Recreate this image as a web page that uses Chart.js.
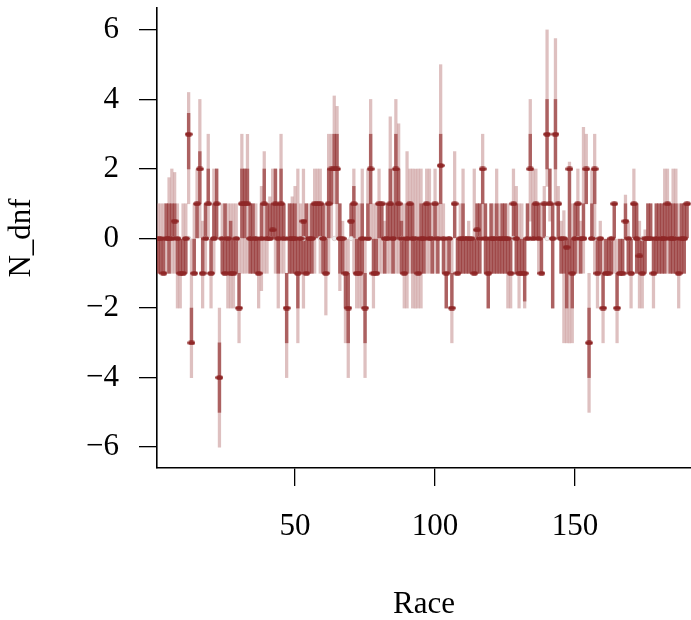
<!DOCTYPE html>
<html>
<head>
<meta charset="utf-8">
<script src="https://cdn.jsdelivr.net/npm/chart.js@4.4.1/dist/chart.umd.min.js"></script>
<style>
html, body { margin: 0; padding: 0; background: #fff; }
#wrap { width: 691px; height: 620px; }
</style>
</head>
<body>
<div id="wrap"><canvas id="chart" width="691" height="620"></canvas></div>
<script>
// observed N_dnf per race (dark points)
var obs = [
  0, 0, -1, 0, 0, 0, 0.5, 0, -1, -1,
  0, 3, -3, -1, 1, 2, -1, 0, 1, -1,
  0, 1, -4, 0, -1, 0, -1, -1, 0, -2,
  1, 1, 1, 0, 0, 0, -1, 0, 1, 0,
  0, 0.25, 1, 0, 1, 0, -2, 0, 0, 0,
  -1, 0, 0.5, -1, 0, 0, 1, 1, 1, 0,
  -1, 1, 2, 2, 2, 0, 0, -1, -2, 0.5,
  1, -1, -1, 0, -2, 0, 2, -1, -1, 1,
  1, 0, 0, 1, 0, 2, 1, 0, -1, 0,
  1, 0, 0, -1, 0, 0, 1, 0, 0, 1,
  0, 2.1, 0, -1, 0, -2, 1, -1, 0, 0,
  0, 0, 0, -1, 0.25, 0, 2, 0, -1, 0,
  0, 0, 0, 0, 0, 0, -1, 1, 0, -1,
  -1, -1, 0, 2, 0, 1, 0, -1, 1, 3,
  1, 0, 3, 1, 0, 0, -0.25, 2, -1, 0,
  1, 0, 0, 2, -3, 0, 2, -1, 0, -2,
  -1, -1, 0, 1, -2, -1, -1, 0.5, 0, -1,
  1, 0, -0.5, -1, 0, 0, 0, -1, 0, 0,
  0, 0, 1, 0, 0, 0, -1, 0, 0, 1
];
// outer (90%) interval
var outerLo = [
  -1, -1, -1, -1, -1, -1, -1, -2, -2, -1,
  -1, 1, -4, -1, 0, 0, -2, -1, 0, -2,
  -1, 0, -6, -1, -1, -2, -2, -2, -1, -3,
  -1, -1, -1, -1, -1, -1, -2, -1.5, -1, -1,
  0, 0, -1, -2, -1, -1, -4, -1, -1, -1,
  -3, -1, -2, -1, -1, -1, -1, 0, -1, -1,
  -2.2, -1, 0, 1, 0, -1.5, -1, -3, -4, 0,
  -1, -2, -2, -2, -4, 0, 0, -2, -1, -1,
  -1, -1, -1, -1, -1, -1, -1, -1, -2, -2,
  -1, -2, -2, -2, -2, -1, -1, -1, -1, -1,
  -1, 0, -1, -2, -1, -3, 0, -1, -1, -1,
  -1, -1, -1, -1, -1, -1, 0, -1, -2, -1,
  -1, -1, -1, -1, -1, -2, -2, 0, -1, -2,
  -1, -2, 0, 0.5, 0, 0, -1, -1, 0, 1.5,
  0.5, -2, 1, 0, -1, -3, -3, -3, -3, -1,
  -1, -1, -1, 1, -5, 0, -1, -2, -1, -3,
  -1, -1, -1, -1, -3, -1, -1, 0, -1, -2,
  0, -1, -2, -2, -1, 0, 0, -2, -1, -1,
  -1, -1, -1, -1, -1, -1, -2, -1, -1, 0
];
var outerHi = [
  1, 1, 1, 1, 1.75, 2, 1.9, 1, 0, 1,
  1, 4.2, 0, 1, 2, 4, 0.5, 1, 3, 0,
  2, 2, -2, 1, 1, 1, 1, 1, 1, 0,
  3, 2, 3, 1, 1, 1, 0, 1.5, 2.5, 1,
  1.2, 2, 2, 1, 3, 1, -1, 1, 1.2, 1.5,
  2, 1, 2, 1, 1, 1, 2, 2, 2, 1,
  1, 3, 3, 4.1, 3.8, 1, 0.5, 0, 0, 1,
  2, 1, 1, 2, 0, 2, 4, 1, 1, 2,
  1, 0.5, 1, 3.5, 2, 4, 3.3, 1, 1, 2.5,
  2, 2, 2, 2, 2, 1, 2, 2, 1, 2,
  1, 5, 1, 0, 0, 0, 2.5, 0, 1, 2,
  0, 0.5, 0, 2, 1, 1, 3, 1, 0, 1,
  1, 2, 1, 1, 1, 1, 0, 2, 1.5, 1,
  1, 0, 1, 4, 2, 2, 1, 1, 1.5, 6,
  2, 1, 5.75, 1.5, 0.5, 0.8, 0, 2.2, 1, 1,
  2, 0.5, 3.2, 3, -1, 2, 3, 0, 0.5, 0,
  0, 0, 0, 1, 0, 0, 0, 1.25, 0.5, 0,
  2, 1, 0.5, 0, 0.25, 1, 1, 0, 1, 1,
  1, 2, 2, 1, 2, 2, 1, 1, 1, 1
];
// inner (50%) interval
var innerLo = [
  -1, -1, -1, 0, -1, 0, 0, -1, -1, -1,
  -1, 2, -3, -1, 0, 1, -1, 0, 1, -1,
  0, 0, -5, -1, -1, -1, -1, -1, -1, -2,
  0, 0, 1, -1, -1, -1, -1, 0, 1, 0,
  0, 0, 0, -1, 0, 0, -3, -1, -1, -1,
  -2, -1, -1, -1, -1, -1, 0, 0, 0, -1,
  -1, 0, 1, 2, 1, -1, -1, -2, -3, 0,
  0, -1, -1, -1, -3, 0, 1, -1, -1, 0,
  0, -1, 0, 0, -1, 0, 0, -1, -1, -1,
  0, -1, -1, -1, -1, -1, 0, 0, -1, 0,
  -1, 1, -1, -2, -1, -2, 0, -1, -1, -1,
  -1, -1, -1, -1, -1, -1, 1, -1, -2, -1,
  -1, -1, -1, -1, -1, -1, -1, 0, -1, -1,
  -1, -1.8, 0, 2, 0, 0, 0, -1, 0, 2,
  1, -2, 2, 0, -1, -1, -2, -1, -2, -1,
  0, -1, 0, 1, -4, 0, 1, -1, -1, -2,
  -1, -1, -1, 0, -2, -1, -1, 0, -1, -1,
  0, -1, -1, -1, -1, 0, 0, -1, -1, -1,
  -1, -1, 0, -1, -1, -1, -1, -1, -1, 0
];
var innerHi = [
  0, 0, 0, 1, 1, 1, 1, 0, 0, 0,
  0, 3.6, -2, 0, 1, 2.5, 0, 1, 2, 0,
  1, 2, -3, 0, 1, 0, 0.5, 0, 0, -1,
  2, 2, 2, 1, 1, 0, 0, 1, 2, 1,
  1, 1, 2, 1, 2, 1, -1, 1, 1, 1,
  0, 0, 0.5, 1, 0, 1, 1, 1, 1, 1,
  0, 2, 2, 3, 3, 1, 0, -1, -1, 1,
  1.5, 0, 0, 1, -1, 1, 3, 0, 0, 1,
  1, 0, 1, 2, 1, 3, 2, 0.5, 0, 1,
  1, 1, 0, 0, 1, 1, 1, 1, 0, 1,
  0, 3, 0, -1, 0, -1, 1, 0, 0, 1,
  0, 0, 0, 0, 1, 1, 2, 1, 0, 1,
  0, 1, 0, 1, 1, 0, 0, 1, 1, 0,
  0, 0, 1, 3, 1, 1, 1, 0, 1, 4,
  2, 1, 4, 1, 0, 0, 0, 2, 0, 1,
  1, 0, 1, 2, -2, 1, 2, 0, 0, -1,
  0, 0, 0, 1, -1, 0, 0, 1, 0, 0,
  1, 1, 0, 0, 0, 1, 1, 0, 1, 1,
  1, 1, 1, 1, 1, 1, 0, 1, 1, 1
];
// races where the light predictive median point is visible
var medianRaces = [6, 12, 18, 24, 29, 35, 41, 47, 53, 59, 64, 70, 76, 82, 88, 93, 99,
  105, 111, 116, 122, 128, 134, 140, 146, 151, 157, 163, 169, 174, 180, 186];
var medianVals = medianRaces.map(function () { return 0; });
var xTicks = [50, 100, 150];
var yTicks = [-6, -4, -2, 0, 2, 4, 6];

var outerData = [], innerData = [], obsData = [];
for (var i = 0; i < obs.length; i++) {
  outerData.push({ x: i + 1, y: [outerLo[i], outerHi[i]] });
  innerData.push({ x: i + 1, y: [innerLo[i], innerHi[i]] });
  obsData.push({ x: i + 1, y: obs[i] });
}
var medData = medianRaces.map(function (r, k) { return { x: r, y: medianVals[k] }; });

// small horizontal ellipse for the observed points
var dot = document.createElement('canvas');
dot.width = 8; dot.height = 5;
var dctx = dot.getContext('2d');
dctx.fillStyle = '#8f2727';
dctx.beginPath();
dctx.ellipse(4, 2.5, 3.8, 2.3, 0, 0, Math.PI * 2);
dctx.fill();

var serif = 'Liberation Serif';

// no auto padding around the plot area; the axes sit at fixed places
function noPad(s) {
  s.paddingTop = 0; s.paddingBottom = 0; s.paddingLeft = 0; s.paddingRight = 0;
}

var ctx = document.getElementById('chart').getContext('2d');
var myChart = new Chart(ctx, {
  type: 'bar',
  data: {
    datasets: [
      {
        label: 'outer',
        data: outerData,
        backgroundColor: 'rgba(185,124,124,0.48)',
        barThickness: 2.6,
        grouped: false,
        order: 4
      },
      {
        label: 'inner',
        data: innerData,
        backgroundColor: 'rgba(140,35,35,0.6)',
        barThickness: 2.8,
        grouped: false,
        order: 3
      },
      {
        type: 'scatter',
        label: 'median',
        data: medData,
        pointStyle: 'circle',
        pointRadius: 2.2,
        backgroundColor: '#ededed',
        borderColor: '#d9c6c6',
        borderWidth: 0.8,
        order: 2
      },
      {
        type: 'scatter',
        label: 'y',
        data: obsData,
        pointStyle: dot,
        pointRadius: 3,
        order: 1
      }
    ]
  },
  options: {
    responsive: false,
    animation: false,
    layout: { autoPadding: false, padding: { top: 8, right: 0, left: 0, bottom: 0 } },
    plugins: { legend: { display: false }, tooltip: { enabled: false } },
    scales: {
      x: {
        type: 'linear',
        offset: false,
        min: 0.7,
        max: 191.4,
        afterFit: function (s) { s.height = 152; noPad(s); },
        afterBuildTicks: function (s) { s.ticks = xTicks.map(function (v) { return { value: v }; }); },
        ticks: {
          color: '#000',
          font: { family: serif, size: 31 },
          padding: 22,
          maxRotation: 0
        },
        grid: { offset: false, drawOnChartArea: false, tickLength: 18, color: '#000', lineWidth: 1.3 },
        border: { color: '#000', width: 1.6 },
        title: {
          display: true,
          text: 'Race',
          color: '#000',
          font: { family: serif, size: 31 },
          padding: { top: 0, bottom: -3 }
        }
      },
      y: {
        type: 'linear',
        min: -6.6,
        max: 6.63,
        afterFit: function (s) { s.width = 157; noPad(s); },
        afterBuildTicks: function (s) { s.ticks = yTicks.map(function (v) { return { value: v }; }); },
        ticks: {
          color: '#000',
          font: { family: serif, size: 31 },
          padding: 20,
          callback: function (v) { return v < 0 ? '\u2212' + Math.abs(v) : String(v); }
        },
        grid: { drawOnChartArea: false, tickLength: 18, color: '#000', lineWidth: 1.3 },
        border: { color: '#000', width: 1.6 },
        title: {
          display: true,
          text: 'N_dnf',
          color: '#000',
          font: { family: serif, size: 31 },
          padding: { top: 3, bottom: 0 }
        }
      }
    }
  }
});
</script>
</body>
</html>
